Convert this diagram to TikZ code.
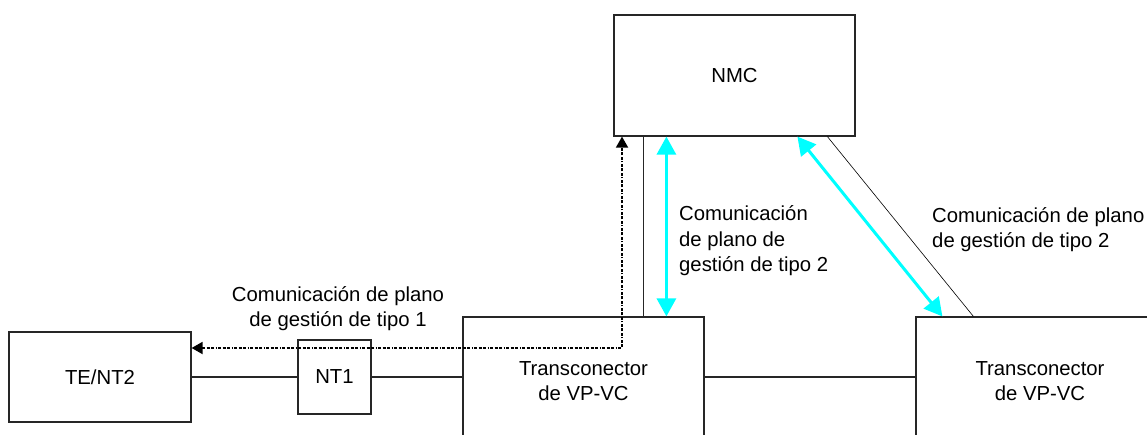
\documentclass[tikz,border=0pt]{standalone}
\usepackage{fontspec}
\setmainfont{Liberation Sans}
\usetikzlibrary{arrows.meta,calc}
\definecolor{aqua}{RGB}{0,255,255}
\begin{document}
\begin{tikzpicture}[x=1pt,y=-1pt,
  every node/.style={font=\fontsize{20.3}{25.5}\selectfont},
  box/.style={draw=black!85,line width=1.2pt,inner sep=0pt,align=center},
  link/.style={draw=black!85,line width=1.2pt},
  thinlink/.style={draw=black,line width=0.6pt},
  cyanarrow/.style={draw=aqua,line width=3pt,{Triangle[length=18pt,width=19pt]}-{Triangle[length=18pt,width=19pt]}},
  mgmt/.style={draw=black,line width=1.8pt,dash pattern=on 3pt off 1.5pt on 3pt off 1.5pt on 3pt off 1.5pt on 1pt off 1.5pt,{Triangle[length=11pt,width=12pt]}-{Triangle[length=11pt,width=12pt]}},
  lbl/.style={inner sep=0pt}]
\clip (0,0) rectangle (1147,434);
\fill[white] (0,0) rectangle (1147,434);
% boxes
\node[box,minimum width=241pt,minimum height=121pt] (nmc) at (734.5,75.5) {NMC};
\node[box,minimum width=182pt,minimum height=90pt] (te) at (100,377) {TE/NT2};
\node[box,minimum width=73pt,minimum height=74pt] (nt1) at (334.5,377) {NT1};
\node[box,minimum width=241pt,minimum height=128pt] (t1) at (583.5,381) {Transconector\\de VP-VC};
\node[box,minimum width=248pt,minimum height=128pt] (t2) at (1040,381) {Transconector\\de VP-VC};
% labels
\node[lbl,align=center] (l1) at (338,308.5) {Comunicación de plano\\de gestión de tipo 1};
\node[lbl,align=left,anchor=west] (l2) at (679,241) {Comunicación\\de plano de\\gestión de tipo 2};
\node[lbl,align=left,anchor=west] (l3) at (932,229.5) {Comunicación de plano\\de gestión de tipo 2};
% coordinates
\coordinate (v1) at ($(nmc.south west)+(30,0)$);
\coordinate (c1) at ($(nmc.south west)+(53,0)$);
\coordinate (c2a) at ($(nmc.south west)+(184,0)$);
\coordinate (c2b) at ($(t2.north west)+(27,0)$);
\coordinate (d1) at ($(nmc.south west)+(214,0)$);
\coordinate (d2) at ($(t2.north west)+(58,0)$);
\coordinate (dc) at (622,348);
% connectors
\draw[link] (te.east) -- (nt1.west);
\draw[link] (nt1.east) -- (nt1.east -| t1.west);
\draw[link] (t1.east |- te.east) -- (t2.west |- te.east);
\draw[link] (v1) -- (v1 |- t1.north);
\draw[thinlink] (d1) -- (d2);
\draw[cyanarrow] (c1) -- (c1 |- t1.north);
\draw[cyanarrow] (c2a) -- (c2b);
\draw[mgmt] (te.east |- dc) -- (dc) -- (dc |- nmc.south);
\end{tikzpicture}
\end{document}
